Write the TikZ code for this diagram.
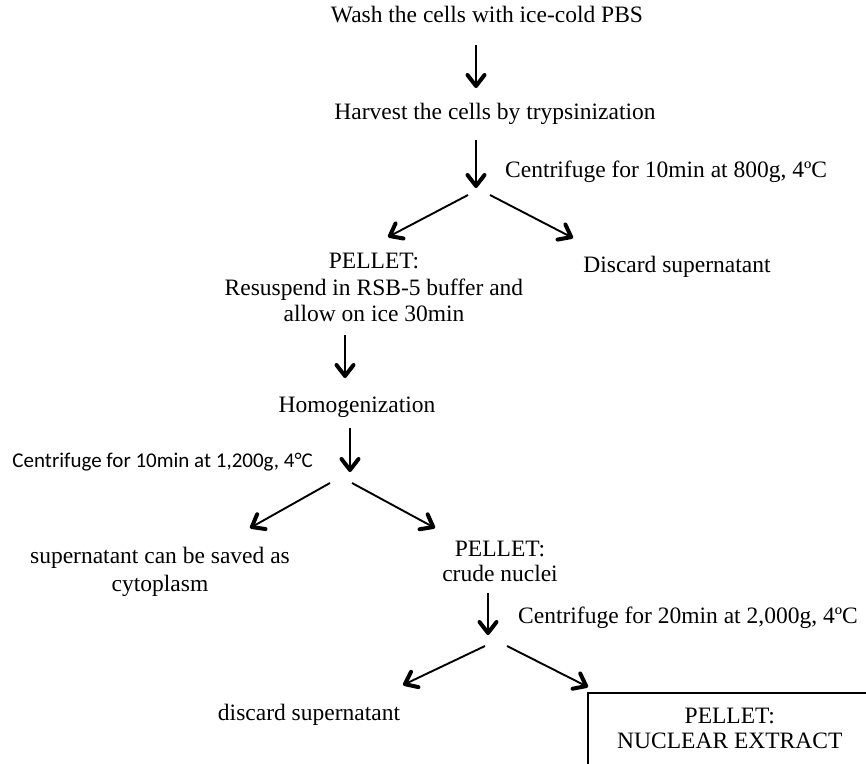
\documentclass[tikz,border=0pt]{standalone}
\usepackage{fontspec}
\setmainfont{Liberation Serif}
\newfontfamily\calibrisans{Carlito}
\usetikzlibrary{arrows.meta}
\begin{document}
\begin{tikzpicture}[x=1pt,y=-1pt,
  txt/.style={font=\fontsize{23.5}{26.5}\selectfont, align=center, inner sep=0pt},
  sanstxt/.style={font=\calibrisans\fontsize{21}{24}\selectfont, inner sep=0pt},
  flow/.style={line width=1.9pt,
    -{Straight Barb[length=11pt,width=17pt,line width=4pt 0,round]}},
  resultbox/.style={draw, line width=1.6pt, minimum width=284pt,
    minimum height=72pt, inner sep=0pt, align=center,
    font=\fontsize{23.5}{25}\selectfont},
]
\useasboundingbox (0,0) rectangle (866,763);
\clip (0,0) rectangle (866,763);

% protocol steps
\node[txt, anchor=base] (wash) at (487,22) {Wash the cells with ice-cold PBS};
\node[txt, anchor=base] (harv) at (495,119) {Harvest the cells by trypsinization};
\node[txt, anchor=base west] (spin1) at (505,177) {Centrifuge for 10min at 800g, 4ºC};
\node[txt] (pel1) at (374,287.7) {PELLET:\\Resuspend in RSB-5 buffer and\\allow on ice 30min};
\node[txt, anchor=base] (disc1) at (677,272) {Discard supernatant};
\node[txt, anchor=base] (homo) at (357,412) {Homogenization};
\node[sanstxt, anchor=base east] (spin2) at (313,467) {Centrifuge for 10min at 1,200g, 4°C};
\node[txt, font=\fontsize{23.5}{28.5}\selectfont] (cyto) at (160,572) {supernatant can be saved as\\cytoplasm};
\node[txt, font=\fontsize{23.5}{25}\selectfont] (pel2) at (500,561.7) {PELLET:\\crude nuclei};
\node[txt, anchor=base west] (spin3) at (518,623) {Centrifuge for 20min at 2,000g, 4ºC};
\node[txt, anchor=base] (disc2) at (309,720) {discard supernatant};
\node[resultbox, anchor=north west] (nuc) at (587,692) {PELLET:\\NUCLEAR EXTRACT};

% arrow end points
\coordinate (a1s) at (476,45);   \coordinate (a1e) at (476,88);
\coordinate (a2s) at (476,140);  \coordinate (a2e) at (476,188);
\coordinate (b1l) at (468,195);  \coordinate (b1le) at (388,237);
\coordinate (b1r) at (490,195);  \coordinate (b1re) at (573,238);
\coordinate (a3s) at (345,335);  \coordinate (a3e) at (345,378);
\coordinate (a4s) at (350,428);  \coordinate (a4e) at (350,472);
\coordinate (b2l) at (330,483);  \coordinate (b2le) at (250,528);
\coordinate (b2r) at (352,483);  \coordinate (b2re) at (435,528);
\coordinate (a5s) at (488,593);  \coordinate (a5e) at (488,635);
\coordinate (b3l) at (485,646);  \coordinate (b3le) at (403,685);
\coordinate (b3r) at (507,646);  \coordinate (b3re) at (588,687);

% connectors
\draw[flow] (a1s) -- (a1e);
\draw[flow] (a2s) -- (a2e);
\draw[flow] (b1l) -- (b1le);
\draw[flow] (b1r) -- (b1re);
\draw[flow] (a3s) -- (a3e);
\draw[flow] (a4s) -- (a4e);
\draw[flow] (b2l) -- (b2le);
\draw[flow] (b2r) -- (b2re);
\draw[flow] (a5s) -- (a5e);
\draw[flow] (b3l) -- (b3le);
\draw[flow] (b3r) -- (b3re);
\end{tikzpicture}
\end{document}
